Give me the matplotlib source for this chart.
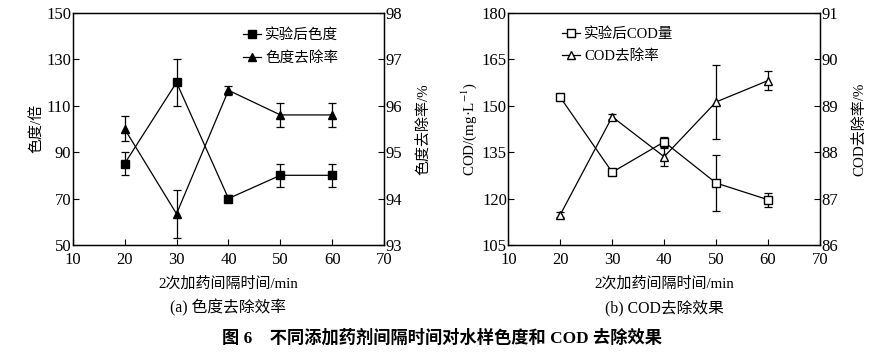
import matplotlib
matplotlib.use("Agg")
from matplotlib import pyplot as plt
from matplotlib.lines import Line2D

plt.rcParams['font.family'] = ['Liberation Serif', 'Noto Sans CJK SC']
plt.rcParams['mathtext.fontset'] = 'stix'
plt.rcParams['axes.unicode_minus'] = False

# interval between the two dosings, min
interval = [20, 30, 40, 50, 60]

# (a) colour
color_after = [85, 120, 70, 80, 80]
color_after_err = [5, 10, 1.5, 5, 5]
color_removal = [95.5, 93.67, 96.33, 95.8, 95.8]
color_removal_err = [0.27, 0.52, 0.1, 0.26, 0.26]

# (b) COD
cod_after = [152.7, 128.5, 138.3, 125.0, 119.6]
cod_after_err = [0.5, 0.5, 1.7, 9.0, 2.3]
cod_removal = [86.65, 88.76, 87.9, 89.08, 89.54]
cod_removal_err = [0.05, 0.05, 0.19, 0.79, 0.2]

FS = 10.5
TFS = 12


def style_axis(ax, ax2, ylim, yticks, y2lim, y2ticks):
    ax.set_xlim(10, 70)
    ax.set_xticks(range(10, 71, 10))
    ax.set_ylim(*ylim)
    ax.set_yticks(yticks)
    ax2.set_ylim(*y2lim)
    ax2.set_yticks(y2ticks)
    for a in (ax, ax2):
        a.tick_params(direction='in', length=4, width=0.8, labelsize=TFS, pad=1)
        for s in a.spines.values():
            s.set_linewidth(0.9)
    ax.tick_params(axis='x', pad=5)
    ax.set_xlabel('2次加药间隔时间/min', fontsize=10.8, labelpad=6)


def handles(mfc):
    return [Line2D([], [], color='black', lw=0.9, marker='s', markersize=6, mfc=mfc),
            Line2D([], [], color='black', lw=0.9, marker='^', markersize=6, mfc=mfc)]


fig = plt.figure(figsize=(8.84, 3.55), dpi=100)
ax1 = fig.add_axes([0.0822, 0.310, 0.3525, 0.654])
ax1r = ax1.twinx()
ax3 = fig.add_axes([0.575, 0.310, 0.3526, 0.654])
ax3r = ax3.twinx()

kw = dict(color='black', lw=0.9, elinewidth=0.9, capsize=3, capthick=0.9, markersize=6)

# (a)
ax1.errorbar(interval, color_after, yerr=color_after_err, fmt='-s', **kw)
ax1r.errorbar(interval, color_removal, yerr=color_removal_err, fmt='-^', **kw)
style_axis(ax1, ax1r, (50, 150), range(50, 151, 20), (93, 98), range(93, 99))
ax1.set_ylabel('色度/倍', fontsize=10.8, labelpad=2)
ax1r.set_ylabel('色度去除率/%', fontsize=10.8, labelpad=10)
ax1.legend(handles('black'), ['实验后色度', '色度去除率'], loc='upper left',
           bbox_to_anchor=(0.505, 0.99), frameon=False, fontsize=FS,
           handlelength=1.2, handletextpad=0.3, labelspacing=0.6)

# (b)
ax3.errorbar(interval, cod_after, yerr=cod_after_err, fmt='-s', mfc='white', **kw)
ax3r.errorbar(interval, cod_removal, yerr=cod_removal_err, fmt='-^', mfc='white', **kw)
style_axis(ax3, ax3r, (105, 180), range(105, 181, 15), (86, 91), range(86, 92))
ax3.set_ylabel('COD/(mg·L$^{-1}$)', fontsize=10.8, labelpad=2)
ax3r.set_ylabel('COD去除率/%', fontsize=10.8, labelpad=10)
ax3.legend(handles('white'), ['实验后COD量', 'COD去除率'], loc='upper left',
           bbox_to_anchor=(0.131, 0.995), frameon=False, fontsize=FS,
           handlelength=1.2, handletextpad=0.3, labelspacing=0.6)

fig.text(0.258, 0.132, '(a) 色度去除效率', ha='center', va='center', fontsize=11.3)
fig.text(0.752, 0.132, '(b) COD去除效果', ha='center', va='center', fontsize=11.3)
fig.text(0.5, 0.048, '图 6    不同添加药剂间隔时间对水样色度和 COD 去除效果',
         ha='center', va='center', fontsize=12.4, fontweight='bold')

fig.savefig('out.png', dpi=100)
